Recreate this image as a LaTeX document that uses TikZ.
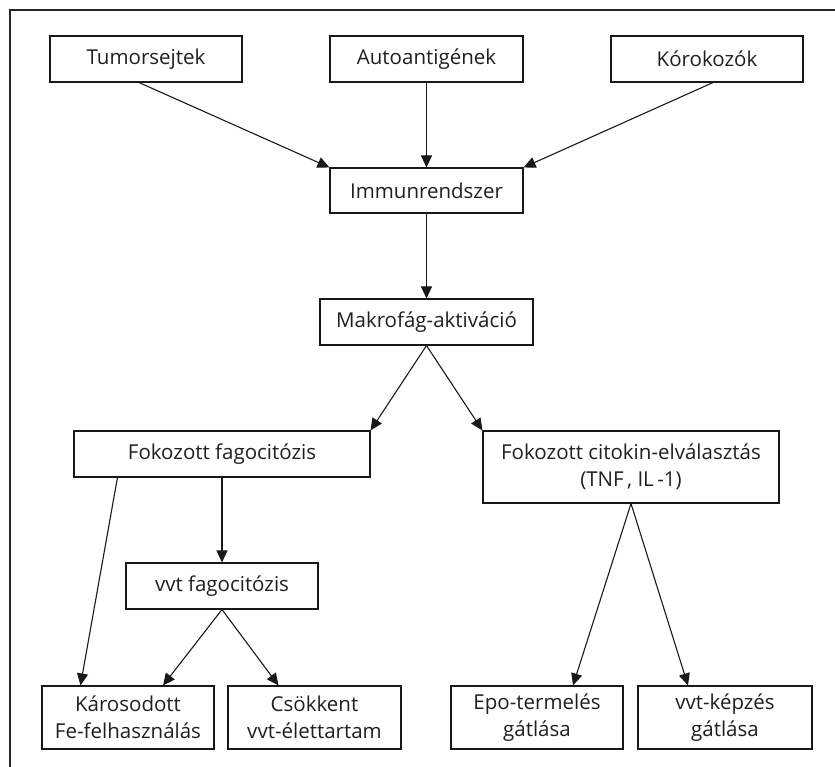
\documentclass[tikz,border=0pt]{standalone}
\usepackage{fontspec}
\setmainfont{Open Sans}
\usetikzlibrary{arrows.meta}
\begin{document}
\begin{tikzpicture}[x=1pt,y=-1pt,
  box/.style={draw=black!90, line width=1.1pt, inner sep=0pt, align=center,
    font=\fontsize{20.5}{27}\selectfont, text=black!88},
  arr/.style={line width=1.1pt, draw=black!90, -{Triangle[length=12pt,width=11pt]}},
  frame/.style={line width=1.2pt, draw=black!85}]
\useasboundingbox (0,0) rectangle (835,767);
\coordinate (ftl) at (10,10);
\coordinate (ftr) at (835,10);
\coordinate (fbl) at (10,767);
\draw[frame] (ftr) -- (ftl) -- (fbl);

\node[box, minimum width=192pt, minimum height=46pt] (tum) at (146,59) {Tumorsejtek};
\node[box, minimum width=193pt, minimum height=46pt] (auto) at (426.5,59) {Autoantigének};
\node[box, minimum width=192pt, minimum height=46pt] (kor) at (707,59) {Kórokozók};
\node[box, minimum width=193pt, minimum height=45pt] (imm) at (426.5,190.5) {Immunrendszer};
\node[box, minimum width=213pt, minimum height=46pt] (mak) at (426.5,322) {Makrofág-aktiváció};
\node[box, minimum width=296pt, minimum height=46pt] (fokfag) at (222,454) {Fokozott fagocitózis};
\node[box, minimum width=296pt, minimum height=72pt] (cit) at (631,467) {Fokozott citokin-elválasztás\\(TNF\,, IL\,-1)};
\node[box, minimum width=192pt, minimum height=46pt] (vvtfag) at (222,586) {vvt fagocitózis};
\node[box, minimum width=172pt, minimum height=63pt] (kar) at (128,717.5) {Károsodott\\Fe-felhasználás};
\node[box, minimum width=173pt, minimum height=63pt] (csok) at (314.5,717.5) {Csökkent\\vvt-élettartam};
\node[box, minimum width=172pt, minimum height=63pt] (epo) at (537,717.5) {Epo-termelés\\gátlása};
\node[box, minimum width=174pt, minimum height=63pt] (kep) at (725,717.5) {vvt-képzés\\gátlása};

\draw[arr] ([xshift=-7pt]tum.south) -- (imm.north west);
\draw[arr] (auto.south) -- (imm.north);
\draw[arr] ([xshift=6pt]kor.south) -- (imm.north east);
\draw[arr] (imm.south) -- (mak.north);
\draw[arr] (mak.south) -- (fokfag.north east);
\draw[arr] (mak.south) -- (cit.north west);
\draw[arr] ([xshift=44pt]fokfag.south west) -- ([xshift=39pt]kar.north west);
\draw[arr] (fokfag.south) -- (vvtfag.north);
\draw[arr] (vvtfag.south) -- ([xshift=35pt]kar.north);
\draw[arr] (vvtfag.south) -- ([xshift=-36pt]csok.north);
\draw[arr] (cit.south) -- ([xshift=36pt]epo.north);
\draw[arr] (cit.south) -- ([xshift=-37pt]kep.north);
\end{tikzpicture}
\end{document}
